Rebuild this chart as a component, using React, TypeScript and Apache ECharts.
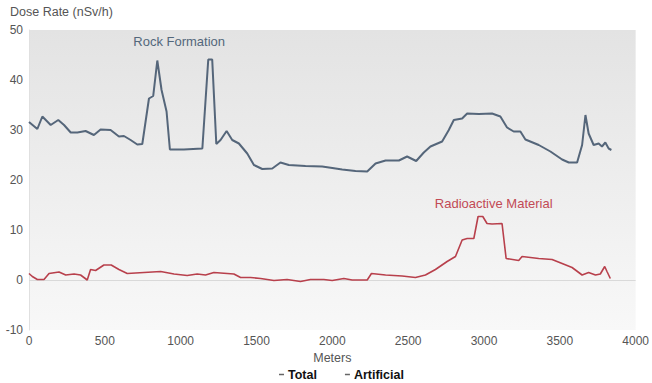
import React, { useEffect, useRef } from "react";
import * as echarts from "echarts";

const xTicks = [0, 500, 1000, 1500, 2000, 2500, 3000, 3500, 4000];
const yTicks = [-10, 0, 10, 20, 30, 40, 50];

const totalMeters = [0, 55, 88, 143, 193, 231, 275, 319, 373, 428, 472, 538, 593, 626, 670, 714, 747, 791, 819, 846, 874, 907, 929, 1021, 1143, 1182, 1208, 1235, 1263, 1303, 1340, 1384, 1439, 1483, 1538, 1604, 1658, 1713, 1823, 1933, 2000, 2065, 2153, 2230, 2285, 2351, 2439, 2493, 2553, 2603, 2647, 2724, 2768, 2801, 2856, 2889, 2966, 3053, 3108, 3152, 3196, 3240, 3273, 3361, 3438, 3515, 3559, 3614, 3647, 3669, 3690, 3723, 3756, 3778, 3800, 3822, 3840];
const totalValues = [31.6, 30.2, 32.7, 31, 32, 31, 29.5, 29.5, 29.8, 29, 30.1, 30, 28.7, 28.8, 28, 27.1, 27.2, 36.3, 36.8, 43.9, 38, 33.7, 26.1, 26.1, 26.3, 44.1, 44.1, 27.2, 28, 29.8, 28, 27.3, 25.3, 23, 22.2, 22.3, 23.5, 23, 22.8, 22.7, 22.4, 22.1, 21.8, 21.7, 23.3, 23.9, 23.9, 24.7, 23.8, 25.5, 26.7, 27.7, 30, 32, 32.3, 33.3, 33.2, 33.3, 32.7, 30.5, 29.7, 29.7, 28.1, 27, 25.7, 24.1, 23.5, 23.5, 27, 33, 29.3, 27, 27.3, 26.7, 27.5, 26.3, 26];

const artMeters = [0, 22, 55, 99, 132, 198, 242, 297, 340, 384, 406, 439, 494, 542, 593, 648, 758, 868, 956, 1043, 1109, 1164, 1219, 1351, 1395, 1461, 1527, 1615, 1702, 1790, 1856, 1944, 1999, 2076, 2131, 2230, 2258, 2351, 2460, 2548, 2614, 2680, 2757, 2812, 2856, 2889, 2933, 2961, 2992, 3020, 3053, 3119, 3146, 3229, 3251, 3361, 3449, 3515, 3581, 3647, 3690, 3735, 3767, 3796, 3811, 3833];
const artValues = [1.3, 0.7, 0.1, 0.1, 1.3, 1.6, 1, 1.2, 1, 0, 2.1, 1.9, 3, 3, 2.1, 1.3, 1.5, 1.7, 1.2, 0.9, 1.2, 1, 1.5, 1.2, 0.5, 0.5, 0.3, -0.1, 0.1, -0.3, 0.1, 0.1, -0.1, 0.3, 0, 0, 1.3, 1, 0.8, 0.5, 1, 2.1, 3.7, 4.7, 8, 8.3, 8.3, 12.7, 12.7, 11.3, 11.2, 11.3, 4.3, 3.9, 4.7, 4.3, 4.1, 3.3, 2.5, 1, 1.5, 1, 1.2, 2.7, 1.7, 0.3];

const seriesNames = ["Total", "Artificial"];
const annotations = [
  { text: "Rock Formation", coord: [990, 47.8] },
  { text: "Radioactive Material", coord: [3064, 15.3] },
];

export default function App() {
  const ref = useRef<HTMLDivElement>(null);
  useEffect(() => {
    if (!ref.current) return;
    const chart = echarts.init(ref.current, undefined, { renderer: "svg" });
    const font = "Liberation Sans, Arial, Helvetica, sans-serif";
    chart.setOption({
      animation: false,
      textStyle: { fontFamily: font },
      graphic: [
        {
          type: "text",
          left: 10,
          top: 5,
          style: { text: "Dose Rate (nSv/h)", fill: "#555", font: `12.5px ${font}` },
        },
      ],
      legend: {
        data: seriesNames,
        top: 368,
        left: 279,
        padding: 0,
        icon: "rect",
        itemWidth: 5,
        itemHeight: 1.5,
        itemGap: 28,
        inactiveColor: "#999",
        textStyle: { fontWeight: "bold", color: "#111", fontSize: 12.5, fontFamily: font, padding: [0, 0, 0, -1] },
        itemStyle: { color: "#666" },
      },
      grid: {
        left: 29,
        right: 15,
        top: 30,
        bottom: 53,
        show: true,
        borderWidth: 0,
        backgroundColor: new echarts.graphic.LinearGradient(0, 0, 0, 1, [
          { offset: 0, color: "#e3e3e3" },
          { offset: 1, color: "#f8f8f8" },
        ]),
      },
      xAxis: {
        type: "value",
        min: xTicks[0],
        max: xTicks[xTicks.length - 1],
        interval: 500,
        name: "Meters",
        nameLocation: "middle",
        nameGap: 21,
        nameTextStyle: { color: "#555", fontSize: 12.5 },
        axisLine: { show: false },
        axisTick: { show: false },
        splitLine: { show: false },
        axisLabel: { color: "#555", fontSize: 12, margin: 5, formatter: (v: number) => String(v) },
      },
      yAxis: {
        type: "value",
        min: yTicks[0],
        max: yTicks[yTicks.length - 1],
        interval: 10,
        axisLine: { show: true, lineStyle: { color: "#e0e0e0" } },
        axisTick: { show: false },
        splitLine: { show: false },
        axisLabel: { color: "#555", fontSize: 12, margin: 6, formatter: (v: number) => String(v) },
      },
      series: [
        {
          name: seriesNames[0],
          type: "line",
          data: totalMeters.map((m, i) => [m, totalValues[i]]),
          showSymbol: false,
          symbol: "none",
          lineStyle: { color: "#55667a", width: 2 },
          itemStyle: { color: "#55667a" },
          markPoint: {
            symbol: "circle",
            symbolSize: 0,
            label: { show: true, formatter: annotations[0].text, color: "#53677b", fontSize: 13, position: "inside" },
            data: [{ coord: annotations[0].coord }],
          },
        },
        {
          name: seriesNames[1],
          type: "line",
          data: artMeters.map((m, i) => [m, artValues[i]]),
          showSymbol: false,
          symbol: "none",
          lineStyle: { color: "#b8404c", width: 1.6 },
          itemStyle: { color: "#b8404c" },
          z: 3,
          markLine: {
            silent: true,
            symbol: "none",
            label: { show: false },
            lineStyle: { color: "#d9d9d9", width: 1, type: "solid" },
            data: [{ yAxis: 0 }],
            z: 1,
          },
          markPoint: {
            symbol: "circle",
            symbolSize: 0,
            label: { show: true, formatter: annotations[1].text, color: "#c24a55", fontSize: 13, position: "inside" },
            data: [{ coord: annotations[1].coord }],
          },
        },
      ],
    });
    return () => chart.dispose();
  }, []);
  return <div ref={ref} style={{ width: 652, height: 383, position: "absolute", left: 0, top: 0 }} />;
}
